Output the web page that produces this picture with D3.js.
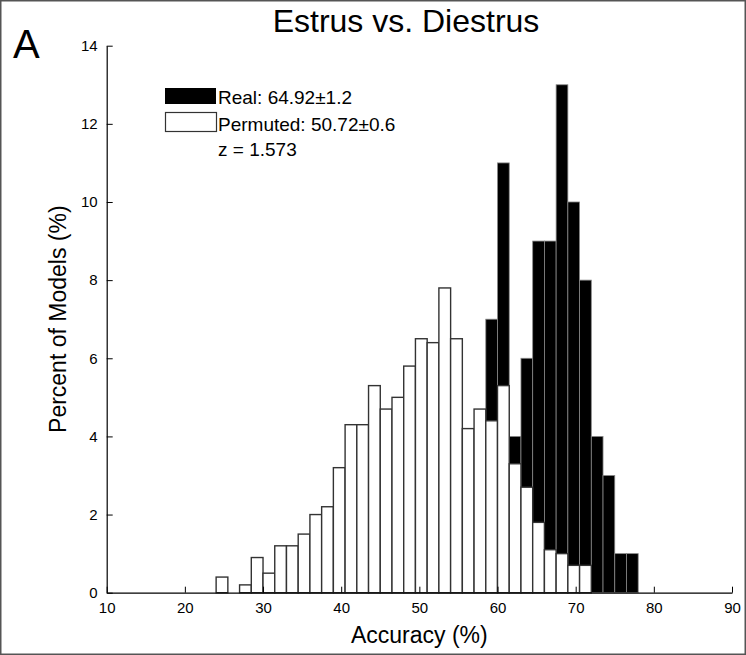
<!DOCTYPE html>
<html>
<head>
<meta charset="utf-8">
<script src="https://cdn.jsdelivr.net/npm/d3@7"></script>
<style>
  html, body { margin: 0; padding: 0; background: #fff; }
  svg text { font-family: "Liberation Sans", Arial, sans-serif; fill: #000; }
</style>
</head>
<body>
<svg id="chart"></svg>
<script>
// histogram bins (left edge, % accuracy), each 1.5 wide
const binLeft = [24, 25.5, 27, 28.5, 30, 31.5, 33, 34.5, 36, 37.5, 39, 40.5,
                 42, 43.5, 45, 46.5, 48, 49.5, 51, 52.5, 54, 55.5, 57, 58.5,
                 60, 61.5, 63, 64.5, 66, 67.5, 69, 70.5, 72, 73.5, 75, 76.5];
const binWidth = 1.5;

// percent of models
const permutedPct = [0.4, 0, 0.2, 0.9, 0.5, 1.2, 1.2, 1.5, 2.0, 2.2, 3.2, 4.3,
                     4.3, 5.3, 4.7, 5.0, 5.8, 6.5, 6.4, 7.8, 6.5, 4.2, 4.7, 4.4,
                     5.3, 3.3, 2.7, 1.8, 1.1, 1.0, 0.7, 0.7, 0, 0, 0, 0];
const realPct = [0, 0, 0, 0, 0, 0, 0, 0, 0, 0, 0, 0,
                 0, 0, 0, 0, 0, 0, 0, 0, 0, 0, 0, 7.0,
                 11, 4.0, 6.0, 9, 9, 13, 10, 8, 4.0, 3.0, 1.0, 1.0];

const xTicks = [10, 20, 30, 40, 50, 60, 70, 80, 90];
const yTicks = [0, 2, 4, 6, 8, 10, 12, 14];

const legendLabels = ["Real: 64.92\u00b11.2", "Permuted: 50.72\u00b10.6"];
const zLabel = "z = 1.573";

const width = 746, height = 655;
const margin = {left: 106.7, right: 14, top: 45.7, bottom: 62.3};

const svg = d3.select("#chart")
    .attr("width", width)
    .attr("height", height);

// thin frame around the figure
svg.append("rect")
    .attr("x", 0.75).attr("y", 0.75)
    .attr("width", width - 1.5).attr("height", height - 1.5)
    .attr("fill", "none")
    .attr("stroke", "#555")
    .attr("stroke-width", 1.5);

const x = d3.scaleLinear().domain([10, 90]).range([margin.left, width - margin.right]);
const y = d3.scaleLinear().domain([0, 14]).range([height - margin.bottom, margin.top]);

const bins = binLeft.map((b, i) => ({x0: b, x1: b + binWidth, real: realPct[i], perm: permutedPct[i]}));

// real (black) bars sit behind the permuted ones
svg.append("g").selectAll("rect")
    .data(bins.filter(d => d.real > 0))
    .enter().append("rect")
    .attr("x", d => x(d.x0))
    .attr("y", d => y(d.real))
    .attr("width", d => x(d.x1) - x(d.x0))
    .attr("height", d => y(0) - y(d.real))
    .attr("fill", "#000")
    .attr("stroke", "#888")
    .attr("stroke-width", 0.8);

svg.append("g").selectAll("rect")
    .data(bins.filter(d => d.x0 < 72))
    .enter().append("rect")
    .attr("x", d => x(d.x0))
    .attr("y", d => y(d.perm))
    .attr("width", d => x(d.x1) - x(d.x0))
    .attr("height", d => y(0) - y(d.perm))
    .attr("fill", "#fff")
    .attr("stroke", "#333")
    .attr("stroke-width", 1.4);

// axes, ticks point inward like matlab
const xAxis = svg.append("g")
    .attr("transform", `translate(0,${y(0)})`)
    .call(d3.axisBottom(x).tickValues(xTicks).tickSizeInner(-6).tickSizeOuter(0).tickPadding(10));
const yAxis = svg.append("g")
    .attr("transform", `translate(${x(10)},0)`)
    .call(d3.axisLeft(y).tickValues(yTicks).tickSizeInner(-6).tickSizeOuter(0).tickPadding(9));

[xAxis, yAxis].forEach(function(g) {
    g.select(".domain").attr("stroke", "#000").attr("stroke-width", 1.2);
    g.selectAll(".tick line").attr("stroke", "#000").attr("stroke-width", 1);
    g.selectAll(".tick text")
        .attr("font-family", "Liberation Sans, Arial, sans-serif")
        .attr("font-size", 15)
        .attr("fill", "#000");
});

// titles
svg.append("text")
    .attr("x", 406).attr("y", 32)
    .attr("text-anchor", "middle")
    .attr("font-size", 32)
    .text("Estrus vs. Diestrus");

svg.append("text")
    .attr("x", 13).attr("y", 58)
    .attr("font-size", 40)
    .text("A");

svg.append("text")
    .attr("x", (x(10) + x(90)) / 2).attr("y", 643)
    .attr("text-anchor", "middle")
    .attr("font-size", 23)
    .text("Accuracy (%)");

svg.append("text")
    .attr("transform", `translate(66,${(y(0) + y(14)) / 2}) rotate(-90)`)
    .attr("text-anchor", "middle")
    .attr("font-size", 23)
    .text("Percent of Models (%)");

// legend
const legend = svg.append("g");
legend.append("rect")
    .attr("x", 165).attr("y", 88).attr("width", 51).attr("height", 16)
    .attr("fill", "#000");
legend.append("rect")
    .attr("x", 165.5).attr("y", 112.5).attr("width", 51).attr("height", 19)
    .attr("fill", "#fff").attr("stroke", "#333").attr("stroke-width", 1.2);

legend.selectAll("text.lbl")
    .data(legendLabels)
    .enter().append("text")
    .attr("class", "lbl")
    .attr("x", 218)
    .attr("y", (d, i) => 104 + i * 27)
    .attr("font-size", 19)
    .text(d => d);

legend.append("text")
    .attr("x", 218).attr("y", 156)
    .attr("font-size", 19)
    .text(zLabel);
</script>
</body>
</html>
